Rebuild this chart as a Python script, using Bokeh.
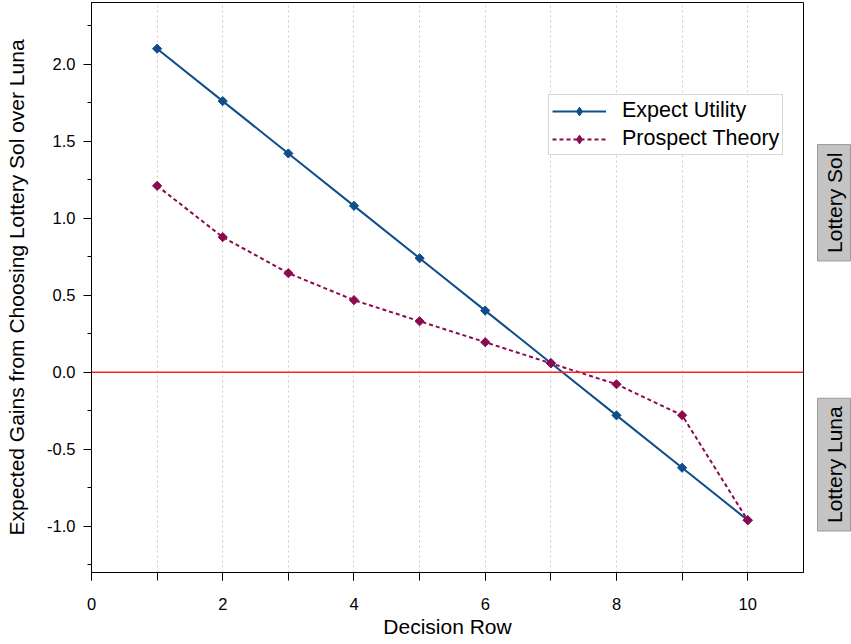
import math
from bokeh.plotting import figure
from bokeh.layouts import row
from bokeh.models import (Range1d, SingleIntervalTicker, FixedTicker, Label, Span, Legend,
                          LegendItem, NumeralTickFormatter)
from bokeh.embed import file_html
from bokeh.resources import INLINE

rows = [1, 2, 3, 4, 5, 6, 7, 8, 9, 10]
expected_utility = [2.10, 1.76, 1.42, 1.08, 0.74, 0.40, 0.06, -0.28, -0.62, -0.96]
prospect_theory = [1.21, 0.877, 0.643, 0.468, 0.331, 0.195, 0.058, -0.078, -0.279, -0.961]
series_names = ["Expect Utility", "Prospect Theory"]
side_labels = ["Lottery Sol", "Lottery Luna"]
side_label_y = [1.10, -0.60]

FONT = "Liberation Sans"
EU_COLOR = "#104E8B"
PT_COLOR = "#8B0A50"

y_range = Range1d(-1.30, 2.40)

p = figure(width=805, height=644, output_backend="svg", toolbar_location=None,
           x_range=Range1d(0, 10.85), y_range=y_range,
           min_border_left=91, min_border_right=2, min_border_top=2, min_border_bottom=72)

p.outline_line_color = "black"
p.outline_line_width = 1
p.background_fill_color = "white"

# axes
p.xaxis.ticker = SingleIntervalTicker(interval=2, num_minor_ticks=2)
p.yaxis.ticker = SingleIntervalTicker(interval=0.5, num_minor_ticks=2)
p.yaxis.formatter = NumeralTickFormatter(format="0.0")
for ax in (p.xaxis[0], p.yaxis[0]):
    ax.axis_line_color = "black"
    ax.major_tick_line_color = "black"
    ax.minor_tick_line_color = "black"
    ax.major_tick_out = 8
    ax.major_tick_in = 0
    ax.minor_tick_in = 0
    ax.major_label_text_font = FONT
    ax.major_label_text_font_size = "16.5px"
    ax.major_label_text_color = "black"
    ax.axis_label_text_font = FONT
    ax.axis_label_text_font_size = "21px"
    ax.axis_label_text_font_style = "normal"
    ax.axis_label_text_color = "black"
p.xaxis.minor_tick_out = 8
p.yaxis.minor_tick_out = 4
p.xaxis.major_label_standoff = 17
p.yaxis.major_label_standoff = 8
p.xaxis.axis_label = "Decision Row"
p.yaxis.axis_label = "Expected Gains from Choosing Lottery Sol over Luna"
p.xaxis.axis_label_standoff = 2
p.yaxis.axis_label_standoff = 16

# grid
p.ygrid.grid_line_color = None
p.xgrid.ticker = FixedTicker(ticks=rows)
p.xgrid.grid_line_color = "#cccccc"
p.xgrid.grid_line_dash = "2 3"
p.xgrid.grid_line_width = 1

# zero line
p.add_layout(Span(location=0, dimension="width", line_color="#ff2222", line_width=1.5))

# series
l1 = p.line(rows, expected_utility, line_color=EU_COLOR, line_width=2)
p.scatter(rows, expected_utility, marker="square", angle=math.pi / 4, size=6.5,
          fill_color=EU_COLOR, line_color=EU_COLOR)
l2 = p.line(rows, prospect_theory, line_color=PT_COLOR, line_width=2, line_dash="4 3")
p.scatter(rows, prospect_theory, marker="square", angle=math.pi / 4, size=6.5,
          fill_color=PT_COLOR, line_color=PT_COLOR)

# legend-only diamond glyphs (not drawn in the plot area)
k1 = p.scatter([float("nan")], [float("nan")], marker="diamond", size=11,
               fill_color=EU_COLOR, line_color=EU_COLOR)
k2 = p.scatter([float("nan")], [float("nan")], marker="diamond", size=11,
               fill_color=PT_COLOR, line_color=PT_COLOR)

legend = Legend(items=[LegendItem(label=series_names[0], renderers=[l1, k1]),
                       LegendItem(label=series_names[1], renderers=[l2, k2])],
                location=(457, 417))
legend.label_text_font = FONT
legend.label_text_font_size = "21.5px"
legend.label_text_color = "black"
legend.border_line_color = "#b0b0b0"
legend.border_line_width = 1
legend.background_fill_color = "white"
legend.background_fill_alpha = 1
legend.padding = 3
legend.spacing = 3
legend.margin = 0
legend.glyph_width = 54
legend.glyph_height = 22
legend.label_height = 22
legend.label_standoff = 16
p.add_layout(legend, "center")

# side panel with the two lottery labels
side = figure(width=46, height=644, output_backend="svg", toolbar_location=None,
              x_range=Range1d(0, 1), y_range=y_range,
              min_border_left=0, min_border_right=0, min_border_top=2, min_border_bottom=72)
side.axis.visible = False
side.grid.grid_line_color = None
side.outline_line_color = None
side.background_fill_color = "white"
for txt, yv in zip(side_labels, side_label_y):
    side.add_layout(Label(x=0.62, y=yv, text=txt, angle=90, angle_units="deg",
                          text_align="center", text_baseline="middle",
                          text_font=FONT, text_font_size="21px", text_color="black",
                          background_fill_color="#c4c4c4", border_line_color="#9a9a9a",
                          padding=(8, 5)))

layout = row(p, side, spacing=0)
open("out.html", "w").write(file_html(layout, INLINE))
